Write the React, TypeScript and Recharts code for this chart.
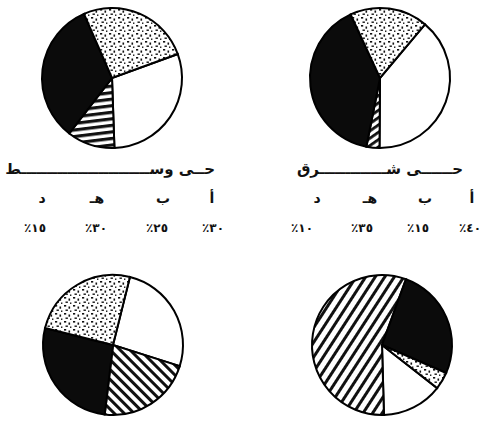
import React from 'react';
import { PieChart, Pie, Cell } from 'recharts';

// slices listed clockwise: أ (white), د (hatched), هـ (black), ب (dotted)
const sliceKeys = ['أ', 'د', 'هـ', 'ب'];
const topLeftValues = [30, 11, 33, 26];
const topRightValues = [39, 3, 40, 18];
const bottomLeftValues = [26, 22, 27, 25];
const bottomRightValues = [14, 56, 26, 4];

// key under the two top pies, in reading order (right to left)
const keyLetters = ['أ', 'ب', 'هـ', 'د'];
const centralPercents = ['٪٣٠', '٪٢٥', '٪٣٠', '٪١٥'];
const eastPercents = ['٪٤٠', '٪١٥', '٪٣٥', '٪١٠'];
const titles = ['حــى وســـــــــــــــــــــــــط', 'حــــــى شـــــــــــــرق'];

const W = 485;
const H = 425;
const R = 70;

const toRows = (values: number[]) => values.map((value, i) => ({ name: sliceKeys[i], value }));

type PieSpec = {
  id: string;
  values: number[];
  cx: number;
  cy: number;
  start: number;
  hatch: string;
};

const pies: PieSpec[] = [
  { id: 'tl', values: topLeftValues, cx: 112, cy: 78, start: 20, hatch: 'hatch-tl' },
  { id: 'tr', values: topRightValues, cx: 380, cy: 78, start: 50, hatch: 'hatch-tr' },
  { id: 'bl', values: bottomLeftValues, cx: 113, cy: 345, start: 76, hatch: 'hatch-bl' },
  { id: 'br', values: bottomRightValues, cx: 382, cy: 345, start: -38, hatch: 'hatch-br' },
];

const fillsFor = (hatch: string) => ['#ffffff', `url(#${hatch})`, '#0b0b0b', 'url(#dots)'];

function Patterns() {
  const stripe = (id: string, size: number, band: number, angle: number) => (
    <pattern
      key={id}
      id={id}
      width={size}
      height={size}
      patternUnits="userSpaceOnUse"
      patternTransform={`rotate(${angle})`}
    >
      <rect width={size} height={size} fill="#fff" />
      <rect width={size} height={band} fill="#111" />
    </pattern>
  );
  return (
    <defs>
      {stripe('hatch-tl', 6.5, 3.2, -7)}
      {stripe('hatch-tr', 6, 2.8, -35)}
      {stripe('hatch-bl', 7, 3, 45)}
      {stripe('hatch-br', 8, 3, -57)}
      <pattern id="dots" width="9" height="8" patternUnits="userSpaceOnUse">
        <rect width="9" height="8" fill="#fff" />
        <rect x="1" y="1" width="2.2" height="1.6" fill="#111" />
        <rect x="5.5" y="2.5" width="1.6" height="2.2" fill="#111" />
        <rect x="2.5" y="5.5" width="2.4" height="1.4" fill="#111" />
        <rect x="7" y="6.5" width="1.4" height="1.4" fill="#111" />
      </pattern>
    </defs>
  );
}

export default function App() {
  const arabic = '"DejaVu Sans", sans-serif';
  return (
    <div style={{ position: 'relative', width: W, height: H, background: '#fff' }}>
      <style>{'body{margin:0;background:#fff}'}</style>
      <svg width={W} height={H} style={{ position: 'absolute', left: 0, top: 0 }}>
        <Patterns />
      </svg>
      <div style={{ position: 'absolute', left: 0, top: 0 }}>
        <PieChart width={W} height={H} margin={{ top: 0, right: 0, bottom: 0, left: 0 }}>
          {pies.map((p) => (
            <Pie
              key={p.id}
              data={toRows(p.values)}
              dataKey="value"
              nameKey="name"
              cx={p.cx}
              cy={p.cy}
              outerRadius={R}
              startAngle={p.start}
              endAngle={p.start - 360}
              stroke="#000"
              strokeWidth={2}
              isAnimationActive={false}
            >
              {p.values.map((_, i) => (
                <Cell key={i} fill={fillsFor(p.hatch)[i]} />
              ))}
            </Pie>
          ))}
        </PieChart>
      </div>
      <svg
        width={W}
        height={H}
        style={{ position: 'absolute', left: 0, top: 0, pointerEvents: 'none' }}
      >
        <g fontFamily={arabic} fill="#111">
          <text x={215} y={174} fontSize={15} fontWeight="bold" textAnchor="end">
            {titles[0]}
          </text>
          <text x={463} y={174} fontSize={15} fontWeight="bold" textAnchor="end">
            {titles[1]}
          </text>
          {keyLetters.map((k, i) => (
            <text key={`cl${i}`} x={[212, 163, 97, 42][i]} y={203} fontSize={14} fontWeight="bold" textAnchor="middle">
              {k}
            </text>
          ))}
          {keyLetters.map((k, i) => (
            <text key={`el${i}`} x={[472, 425, 370, 317][i]} y={203} fontSize={14} fontWeight="bold" textAnchor="middle">
              {k}
            </text>
          ))}
          {centralPercents.map((t, i) => (
            <text
              key={`cp${i}`}
              x={[213, 157, 96, 35][i]}
              y={232}
              fontSize={12}
              fontWeight="bold"
              textAnchor="middle"
              style={{ direction: 'ltr', unicodeBidi: 'bidi-override' }}
            >
              {t}
            </text>
          ))}
          {eastPercents.map((t, i) => (
            <text
              key={`ep${i}`}
              x={[470, 418, 362, 302][i]}
              y={232}
              fontSize={12}
              fontWeight="bold"
              textAnchor="middle"
              style={{ direction: 'ltr', unicodeBidi: 'bidi-override' }}
            >
              {t}
            </text>
          ))}
        </g>
      </svg>
    </div>
  );
}
